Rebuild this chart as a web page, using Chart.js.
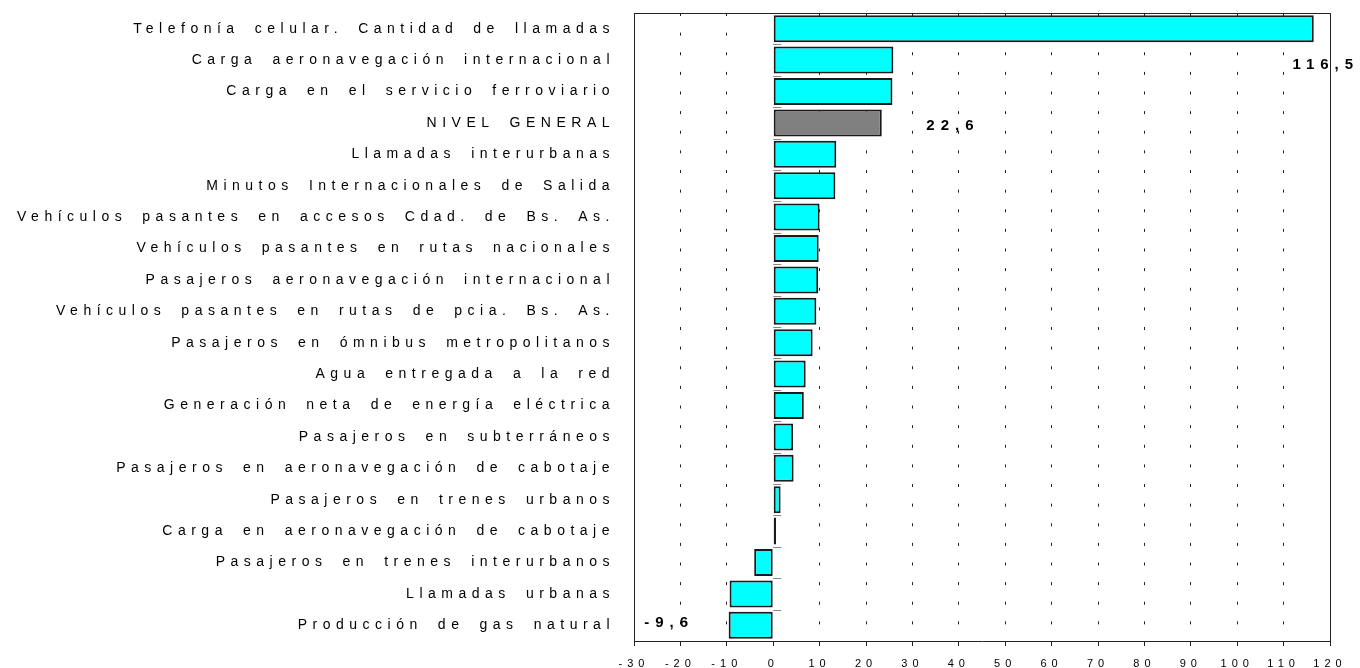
<!DOCTYPE html>
<html>
<head>
<meta charset="utf-8">
<script src="https://cdn.jsdelivr.net/npm/chart.js@4/dist/chart.umd.min.js"></script>
<style>
  html, body { margin: 0; padding: 0; background: #fff; }
  .wrap { width: 1360px; height: 668px; }
</style>
</head>
<body>
<div class="wrap"><canvas class="js-chart" width="1360" height="668"></canvas></div>
<script>
const categories = [
  "Telefonía celular. Cantidad de llamadas",
  "Carga aeronavegación internacional",
  "Carga en el servicio ferroviario",
  "NIVEL GENERAL",
  "Llamadas interurbanas",
  "Minutos Internacionales de Salida",
  "Vehículos pasantes en accesos Cdad. de Bs. As.",
  "Vehículos pasantes en rutas nacionales",
  "Pasajeros aeronavegación internacional",
  "Vehículos pasantes en rutas de pcia. Bs. As.",
  "Pasajeros en ómnibus metropolitanos",
  "Agua entregada a la red",
  "Generación neta de energía eléctrica",
  "Pasajeros en subterráneos",
  "Pasajeros en aeronavegación de cabotaje",
  "Pasajeros en trenes urbanos",
  "Carga en aeronavegación de cabotaje",
  "Pasajeros en trenes interurbanos",
  "Llamadas urbanas",
  "Producción de gas natural",
];
const values = [116.5, 25.9, 25.7, 23.4, 13.6, 13.4, 10.0, 9.8, 9.7, 9.3, 8.5, 7.0, 6.6, 4.3, 4.4, 1.6, 0.6, -4.1, -9.4, -9.6];
const highlighted = "NIVEL GENERAL";
const xMin = -30;
const xMax = 120;
const xStep = 10;
// value notes written on the chart: row (category units), x (axis units), text
const noteRows = [1.15, 3.1, 18.93];
const noteX = [111.9, 33.0, -27.8];
const noteText = ["116,5", "22,6", "-9,6"];

const FONT = "'Liberation Sans', Arial, sans-serif";

const ctx = document.querySelector(".js-chart").getContext("2d");

// the original uses wide character spacing; give each axis its own
function spaceLabels(scale, spacing, words) {
  if (scale._spaced) return;
  const orig = scale.drawLabels.bind(scale);
  scale.drawLabels = function (area) {
    this.ctx.save();
    this.ctx.letterSpacing = spacing;
    this.ctx.wordSpacing = words;
    orig(area);
    this.ctx.restore();
  };
  scale._spaced = true;
}

const spacingPlugin = {
  id: "spacing",
  afterLayout(chart) {
    spaceLabels(chart.scales.x, "5px", "0px");
    spaceLabels(chart.scales.y, "5.5px", "5.7px");
  },
};

const framePlugin = {
  id: "frame",
  afterDatasetsDraw(chart) {
    const { ctx, chartArea, scales } = chart;
    const x0 = scales.x.getPixelForValue(0);
    ctx.save();
    // small ticks on the zero line between rows
    ctx.strokeStyle = "#888";
    ctx.lineWidth = 1;
    for (let i = 0; i < categories.length - 1; i++) {
      const yb = Math.round((scales.y.getPixelForValue(i) + scales.y.getPixelForValue(i + 1)) / 2) + 0.5;
      ctx.beginPath();
      ctx.moveTo(x0, yb);
      ctx.lineTo(x0 + 8, yb);
      ctx.stroke();
    }
    // frame
    ctx.strokeStyle = "#222";
    ctx.beginPath();
    ctx.moveTo(chartArea.left + 0.5, chartArea.bottom);
    ctx.lineTo(chartArea.left + 0.5, chartArea.top + 0.5);
    ctx.lineTo(chartArea.right + 0.5, chartArea.top + 0.5);
    ctx.lineTo(chartArea.right + 0.5, chartArea.bottom);
    ctx.stroke();
    // value notes
    ctx.letterSpacing = "6px";
    ctx.font = "bold 15px " + FONT;
    ctx.fillStyle = "#000";
    ctx.textBaseline = "middle";
    ctx.textAlign = "left";
    noteRows.forEach((row, i) => {
      ctx.fillText(noteText[i], scales.x.getPixelForValue(noteX[i]), scales.y.getPixelForValue(row));
    });
    ctx.restore();
  },
};

new Chart(ctx, {
  type: "bar",
  data: {
    labels: categories,
    datasets: [
      {
        data: values,
        backgroundColor: categories.map((c) => (c === highlighted ? "#808080" : "#00FFFF")),
        borderColor: "#1a1a1a",
        borderWidth: 2,
        borderSkipped: false,
        barPercentage: 0.86,
        categoryPercentage: 1,
      },
    ],
  },
  options: {
    indexAxis: "y",
    responsive: false,
    animation: false,
    layout: { padding: { top: 13, right: 30, left: 0, bottom: 0 } },
    plugins: {
      legend: { display: false },
      tooltip: { enabled: false },
    },
    scales: {
      x: {
        min: xMin,
        max: xMax,
        ticks: {
          stepSize: xStep,
          color: "#000",
          font: { family: FONT, size: 11 },
          padding: 11,
          maxRotation: 0,
        },
        grid: {
          color: (c) => (c.tick && c.tick.value === 0 ? "rgba(0,0,0,0)" : "#222"),
          lineWidth: 1,
          tickLength: 5,
          tickColor: "#222",
          tickBorderDash: [],
        },
        border: { display: true, color: "#222", width: 1, dash: [3, 16.625] },
        afterFit(scale) { scale.height = 27; },
      },
      y: {
        ticks: {
          color: "#000",
          font: { family: FONT, size: 14 },
          padding: 19,
          autoSkip: false,
        },
        grid: { display: false, drawTicks: false },
        border: { display: true, color: "#222", width: 1 },
        afterFit(scale) {
          scale.width = 634;
          scale.paddingTop = 0;
          scale.paddingBottom = 0;
        },
      },
    },
  },
  plugins: [spacingPlugin, framePlugin],
});
</script>
</body>
</html>
